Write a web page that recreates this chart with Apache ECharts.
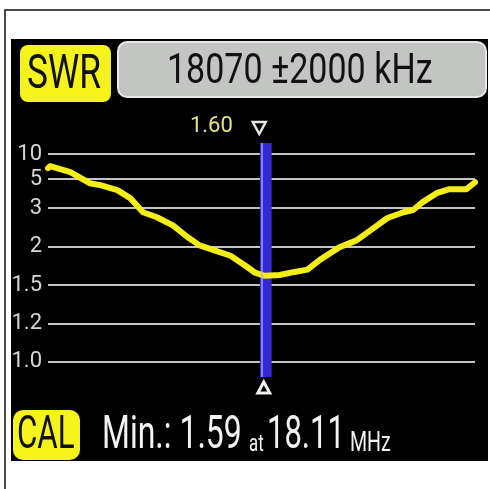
<!DOCTYPE html>
<html lang="en">
<head>
	<meta charset="UTF-8">
	<title>SWR</title>
	<script src="https://cdn.jsdelivr.net/npm/echarts@6/dist/echarts.min.js"></script>
	<style>
		html, body { margin: 0; padding: 0; background: #fff; }
	</style>
</head>
<body>
	<div id="main" style="width: 490px;height:489px;"></div>
<script type="text/javascript">
	// frequency in MHz, SWR
	var freqs = [16.07, 16.09, 16.28, 16.46, 16.56, 16.72, 16.84, 16.96, 17.09, 17.24, 17.37, 17.49,
		17.63, 17.78, 17.92, 18.01, 18.10, 18.24, 18.38, 18.50, 18.62, 18.80, 18.96, 19.09,
		19.25, 19.40, 19.49, 19.58, 19.71, 19.83, 19.99, 20.07];
	var swr = [7.2, 7.6, 6.4, 4.72, 4.59, 4.24, 3.69, 2.89, 2.76, 2.55, 2.26, 2.03,
		1.95, 1.88, 1.75, 1.66, 1.62, 1.63, 1.67, 1.70, 1.83, 1.99, 2.16, 2.42,
		2.74, 2.89, 2.95, 3.41, 4.03, 4.31, 4.31, 4.79];
	var swrTicks = [1.0, 1.2, 1.5, 2, 3, 5, 10];
	var tickLabels = ['1.0', '1.2', '1.5', '2', '3', '5', '10'];
	var tickPos = [0, 1, 2, 3, 4, 4.75, 5.4];   // screen scale is not linear
	var centerFreq = 18070, span = 2000;     // kHz
	var markerFreq = 18.11, markerSwr = 1.60;
	var minSwr = 1.59, minFreq = 18.11;

	// piecewise mapping SWR -> axis position
	function swrToPos(v) {
		if (v <= swrTicks[0]) return tickPos[0];
		for (var i = 1; i < swrTicks.length; i++) {
			if (v <= swrTicks[i]) {
				var t = (v - swrTicks[i-1]) / (swrTicks[i] - swrTicks[i-1]);
				return tickPos[i-1] + t * (tickPos[i] - tickPos[i-1]);
			}
		}
		return tickPos[tickPos.length-1];
	}

	var lineData = [];
	for (var i = 0; i < freqs.length; i++) {
		lineData.push([freqs[i], swrToPos(swr[i])]);
	}

	var myChart = echarts.init(document.getElementById('main'));
	var fnt = 'Roboto, "Noto Sans", sans-serif';

	myChart.setOption({
		backgroundColor: '#fff',
		animation: false,
		grid: { left: 48, right: 15, top: 143, bottom: 112 },
		xAxis: {
			type: 'value',
			min: (centerFreq - span) / 1000,
			max: (centerFreq + span) / 1000,
			show: false
		},
		yAxis: {
			type: 'value',
			min: -0.39,
			max: 5.69,
			axisLine: { show: false },
			axisTick: { show: false, customValues: tickPos },
			axisLabel: {
				customValues: tickPos,
				color: '#d6d6d6',
				fontFamily: fnt,
				fontSize: 22,
				margin: 6,
				formatter: function (v) {
					var k = tickPos.indexOf(v);
					return k >= 0 ? tickLabels[k] : '';
				}
			},
			splitLine: { show: true, lineStyle: { color: '#c4c4c4', width: 2 } }
		},
		graphic: [
			{ id: 'frame', type: 'rect', z: -10, shape: { x: 5, y: 10, width: 500, height: 500 },
				style: { fill: '#fff', stroke: '#111', lineWidth: 1.5 } },
			{ id: 'screen', type: 'rect', z: -9, shape: { x: 11, y: 39, width: 477, height: 422 },
				style: { fill: '#000' } },
			{ id: 'swrBox', type: 'rect', shape: { x: 20, y: 45, width: 91, height: 57, r: 8 },
				style: { fill: '#f6f21c' } },
			{ id: 'swrTxt', type: 'text', x: 27, y: 76, scaleX: 0.72,
				style: { text: 'SWR', font: '49px ' + fnt, fill: '#111', verticalAlign: 'middle' } },
			{ id: 'rangeBox', type: 'rect', shape: { x: 118, y: 42, width: 368, height: 55, r: 9 },
				style: { fill: '#c3c5c3', stroke: '#e8e8e8', lineWidth: 2 } },
			{ id: 'rangeTxt', type: 'text', x: 167, y: 72, scaleX: 0.81,
				style: { text: centerFreq + ' \u00b1' + span + ' kHz', font: '42px ' + fnt, fill: '#111', verticalAlign: 'middle' } },
			{ id: 'calBox', type: 'rect', shape: { x: 13, y: 410, width: 67, height: 50, r: 10 },
				style: { fill: '#f6f21c' } },
			{ id: 'calTxt', type: 'text', x: 17, y: 436, scaleX: 0.68,
				style: { text: 'CAL', font: '46px ' + fnt, fill: '#111', verticalAlign: 'middle' } },
			{ id: 'minTxt', type: 'text', x: 102, y: 436, scaleX: 0.68,
				style: { text: 'Min.: ' + minSwr.toFixed(2), font: '47px ' + fnt, fill: '#f2f2f2', verticalAlign: 'middle' } },
			{ id: 'atTxt', type: 'text', x: 249, y: 445, scaleX: 0.7,
				style: { text: 'at', font: '24px ' + fnt, fill: '#f2f2f2', verticalAlign: 'middle' } },
			{ id: 'freqTxt', type: 'text', x: 267, y: 436, scaleX: 0.66,
				style: { text: minFreq.toFixed(2), font: '47px ' + fnt, fill: '#f2f2f2', verticalAlign: 'middle' } },
			{ id: 'mhzTxt', type: 'text', x: 350, y: 444, scaleX: 0.7,
				style: { text: 'MHz', font: '28px ' + fnt, fill: '#f2f2f2', verticalAlign: 'middle' } }
		],
		series: [{
			type: 'line',
			data: lineData,
			showSymbol: false,
			smooth: false,
			z: 5,
			lineStyle: { color: '#f4ee14', width: 6, cap: 'round', join: 'round' },
			markArea: {
				silent: true,
				itemStyle: { color: '#3228d4' },
				data: [[{ xAxis: markerFreq - 0.055 }, { xAxis: markerFreq + 0.055 }]]
			},
			markLine: {
				silent: true,
				symbol: 'none',
				z: 6,
				label: { show: false },
				lineStyle: { color: '#b0b0ff', width: 1.5, type: 'solid', opacity: 0.9 },
				data: [{ xAxis: markerFreq - 0.04 }]
			}
		}]
	});

	// marker triangles and value, placed through the axis scale
	var mx = myChart.convertToPixel({ xAxisIndex: 0 }, markerFreq);
	var yTop = myChart.convertToPixel({ yAxisIndex: 0 }, 5.69);
	var yBot = myChart.convertToPixel({ yAxisIndex: 0 }, -0.39);
	myChart.setOption({
		graphic: [
			{ id: 'triTop', type: 'polygon', shape: { points: [[mx - 13, yTop - 21], [mx, yTop - 21], [mx - 6.5, yTop - 9]] },
				style: { fill: 'none', stroke: '#e6e6e6', lineWidth: 2.5 } },
			{ id: 'triBot', type: 'polygon', shape: { points: [[mx - 2, yBot + 5], [mx + 4, yBot + 16], [mx - 8, yBot + 16]] },
				style: { fill: 'none', stroke: '#f0f0f0', lineWidth: 3 } },
			{ id: 'markVal', type: 'text', x: mx - 33, y: yTop - 17,
				style: { text: markerSwr.toFixed(2), font: '22px ' + fnt, fill: '#e3e386', align: 'right', verticalAlign: 'middle' } }
		]
	});
</script>
</body>
</html>
